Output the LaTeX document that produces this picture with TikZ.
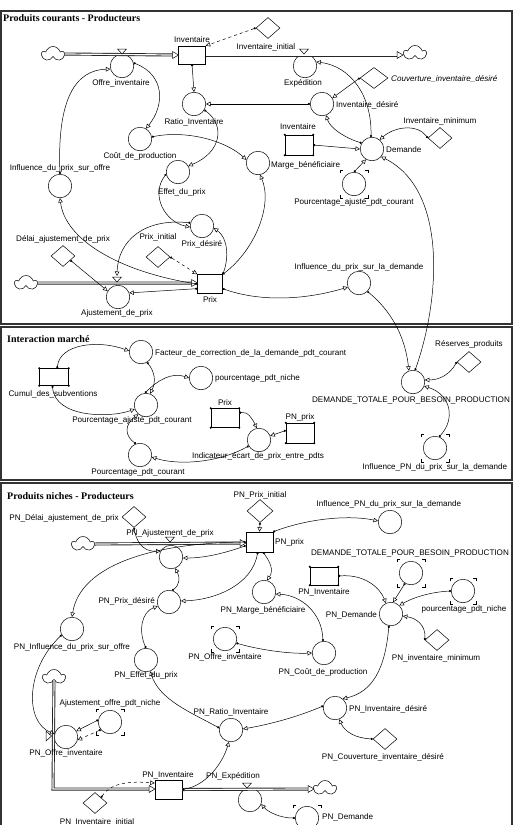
\documentclass[tikz,border=0pt]{standalone}
\usepackage{fontspec}
\setmainfont{Liberation Sans}
\newfontfamily\serifbf{Liberation Serif}
\usetikzlibrary{arrows.meta,shapes.geometric,shapes.symbols}
\newcommand\gbrk[3]{%
  \draw[line width=0.5pt] (#1.center) ++(-#2,-#3+3) -- ++(0,-3) -- ++(3,0);
  \draw[line width=0.5pt] (#1.center) ++(#2,-#3+3) -- ++(0,-3) -- ++(-3,0);
  \draw[line width=0.5pt] (#1.center) ++(-#2,#3-3) -- ++(0,3) -- ++(3,0);
  \draw[line width=0.5pt] (#1.center) ++(#2,#3-3) -- ++(0,3) -- ++(-3,0);}
\newcommand\gdots[1]{%
  \foreach \a in {north west,north east,south west,south east}{\fill (#1.\a) circle (1.1pt);}}
\newcommand\valveh[2]{\draw[line width=0.5pt,fill=white] (#1-4.5,#2-6) -- (#1+4.5,#2-6) -- (#1,#2-1) -- cycle;}
\newcommand\ftip[2]{\draw[line width=0.5pt,fill=white] (#1-6,#2-3.5) -- (#1,#2) -- (#1-6,#2+3.5) -- cycle;}
\begin{document}
\begin{tikzpicture}[x=1pt,y=-1pt,
  lab/.style={font=\fontsize{8.1}{9}\selectfont, inner sep=0pt},
  ttl/.style={font=\serifbf\bfseries\fontsize{10}{11}\selectfont, inner sep=0pt, anchor=west},
  aux/.style={circle, draw, line width=0.5pt, minimum size=23.5pt, inner sep=0pt},
  lev/.style={draw, line width=0.5pt, minimum width=27pt, minimum height=18pt, inner sep=0pt},
  cst/.style={diamond, draw, line width=0.5pt, minimum width=24pt, minimum height=21pt, inner sep=0pt},
  cld/.style={cloud, draw, line width=0.5pt, cloud puffs=5, aspect=1.5, minimum width=22pt, minimum height=15pt, inner sep=0pt},
  lnk/.style={line width=0.5pt, {Circle[length=2.2pt]}-{Triangle[open,length=4.5pt,width=4.5pt]}},
  dlnk/.style={lnk, dashed},
  pipe/.style={draw=black!85, line width=0.9pt, double=white, double distance=1.2pt},
  frm/.style={line width=1.1pt, draw=black!80},
]
\useasboundingbox (0,0) rectangle (519,825);
\fill[white] (0,0) rectangle (519,825);
% ---------- frames
\draw[frm] (1,11) rectangle (512,324);
\draw[frm] (1,327) rectangle (512,480);
\draw[frm] (1,483) rectangle (512,840);
\node[ttl] (t1) at (3,18) {Produits courants - Producteurs};
\node[ttl] (t2) at (7,339) {Interaction marché};
\node[ttl] (t3) at (7,496) {Produits niches - Producteurs};

% ================= PANEL 1
\node[cld] (c1) at (53,54) {};
\node[lev] (inv) at (192,55) {};
\node[aux] (offre) at (122,66) {};
\node[cst] (invini) at (268,28) {};
\node[aux] (exped) at (305,66) {};
\node[cld] (c2) at (415,53) {};
\node[cst, minimum width=28pt] (couv) at (374,78) {};
\node[aux] (invdes) at (322,104) {};
\node[aux] (ratio) at (194,104) {};
\node[cst] (invmin) at (440,138) {};
\node[lev, minimum width=28pt, minimum height=20pt] (ginv) at (299,145) {};
\gdots{ginv}
\node[aux] (dem) at (372,149) {};
\node[aux] (gpac) at (354,184) {};
\gbrk{gpac}{14}{14}
\node[aux] (marge) at (258,163) {};
\node[aux] (cout) at (140,139) {};
\node[aux] (effet) at (178,172) {};
\node[aux] (infoff) at (60,186) {};
\node[aux] (pdes) at (202,226) {};
\node[cst] (delai) at (63,256) {};
\node[cst] (pini) at (158,257) {};
\node[cld] (c3) at (26,283) {};
\node[aux] (ajust) at (118,297) {};
\node[lev, minimum width=25pt, minimum height=19pt] (prix) at (210,284) {};
\node[aux] (infdem) at (359,283) {};
\coordinate (v3) at (117,276);

\draw[pipe] (c1.east) -- (172.5,55); \ftip{178.5}{55}
\draw[pipe] (inv.east) -- (397,55); \ftip{403}{55}
\draw[pipe] (c3.east) -- (191.5,283); \ftip{197.5}{283}
\valveh{122}{55} \valveh{304}{55} \valveh{117}{283}

\node[lab] (lInv) at (192,40) {Inventaire};
\node[lab] (lOffre) at (121,83) {Offre\_inventaire};
\node[lab] (lInvini) at (266,47) {Inventaire\_initial};
\node[lab] (lExped) at (303,83) {Expédition};
\node[lab, anchor=west, font=\fontsize{8.1}{9}\selectfont\itshape] (lCouv) at (391,79) {Couverture\_inventaire\_désiré};
\node[lab, anchor=west] (lInvdes) at (336,105) {Inventaire\_désiré};
\node[lab] (lRatio) at (194,122) {Ratio\_Inventaire};
\node[lab] (lInvmin) at (440,121) {Inventaire\_minimum};
\node[lab] (lGinv) at (298,127) {Inventaire};
\node[lab, anchor=west] (lDem) at (386,150) {Demande};
\node[lab] (lGpac) at (354,202) {Pourcentage\_ajusté\_pdt\_courant};
\node[lab, anchor=west] (lMarge) at (271,165) {Marge\_bénéficiaire};
\node[lab] (lCout) at (140,156) {Coût\_de\_production};
\node[lab] (lEffet) at (182,192) {Effet\_du\_prix};
\node[lab] (lInfoff) at (60,168) {Influence\_du\_prix\_sur\_offre};
\node[lab] (lPdes) at (202,244) {Prix\_désiré};
\node[lab] (lDelai) at (63,239) {Délai\_ajustement\_de\_prix};
\node[lab] (lPini) at (158,237) {Prix\_initial};
\node[lab] (lAjust) at (117,313) {Ajustement\_de\_prix};
\node[lab] (lPrix) at (210,300) {Prix};
\node[lab] (lInfdem) at (359,267) {Influence\_du\_prix\_sur\_la\_demande};

\draw[dlnk] (invini.west) -- (inv.north east);
\draw[lnk] (inv.south) -- (ratio.north);
\draw[lnk] (invdes.west) -- (ratio.east);
\draw[lnk] (offre.15) .. controls (165,75) and (165,105) .. (cout.60);
\draw[lnk] (infoff.north) .. controls (57,100) and (75,70) .. (offre.195);
\draw[lnk] (ratio.-30) .. controls (225,125) and (222,152) .. (effet.30);
\draw[lnk] (cout.10) .. controls (185,130) and (225,140) .. (marge.165);
\draw[lnk] (effet.190) .. controls (150,195) and (165,222) .. (pdes.185);
\draw[lnk] (pdes.165) .. controls (145,218) and (118,240) .. (v3);
\draw[lnk] (prix.north east) .. controls (229,258) and (228,238) .. (pdes.-10);
\draw[lnk] (prix.north east) .. controls (255,250) and (273,205) .. (marge.-80);
\draw[lnk] (prix.west) .. controls (120,272) and (65,240) .. (infoff.south);
\draw[lnk] (delai.-30) -- (ajust.150);
\draw[dlnk] (pini.east) -- (prix.north west);
\draw[lnk] (prix.200) -- (ajust.20);
\draw[lnk] (prix.-20) .. controls (260,302) and (305,300) .. (infdem.200);
\draw[lnk] (invmin.west) .. controls (418,124) and (395,126) .. (dem.50);
\draw[lnk] (couv.west) -- (invdes.30);
\draw[lnk] (dem.150) .. controls (345,138) and (330,128) .. (invdes.-70);
\draw[lnk] (dem.95) .. controls (372,95) and (350,66) .. (exped.20);
\draw[lnk] (ginv.east) -- (dem.west);
\draw[lnk] (gpac.north) -- (dem.-120);

% ================= PANEL 2
\node[aux] (fact) at (141,352) {};
\node[lev, minimum width=29pt, minimum height=17pt] (cumul) at (54,377) {};
\gdots{cumul}
\node[aux] (pac) at (146,405) {};
\node[aux] (pniche) at (201,378) {};
\node[lev, minimum width=28pt, minimum height=19pt] (gprix) at (225,418) {};
\gdots{gprix}
\node[lev, minimum width=28pt, minimum height=20pt] (gpnprix) at (300,433) {};
\gdots{gpnprix}
\node[aux] (indic) at (259,440) {};
\node[aux] (ppc) at (140,455) {};
\node[cst] (reserv) at (469,362) {};
\node[aux] (dtot) at (413,382) {};
\node[aux] (ginfpn) at (435,448) {};
\gbrk{ginfpn}{14}{14}

\node[lab, anchor=west] (lFact) at (155,353) {Facteur\_de\_correction\_de\_la\_demande\_pdt\_courant};
\node[lab] (lCumul) at (53,394) {Cumul\_des\_subventions};
\node[lab] (lPac) at (132,420) {Pourcentage\_ajusté\_pdt\_courant};
\node[lab, anchor=west] (lPniche) at (215,378) {pourcentage\_pdt\_niche};
\node[lab] (lGprix) at (225,403) {Prix};
\node[lab] (lGpnprix) at (300,417) {PN\_prix};
\node[lab] (lIndic) at (258,456) {Indicateur\_écart\_de\_prix\_entre\_pdts};
\node[lab] (lPpc) at (138,472) {Pourcentage\_pdt\_courant};
\node[lab] (lReserv) at (469,344) {Réserves\_produits};
\node[lab] (lDtot) at (411,400) {DEMANDE\_TOTALE\_POUR\_BESOIN\_PRODUCTION};
\node[lab] (lGinfpn) at (435,467) {Influence\_PN\_du\_prix\_sur\_la\_demande};

\draw[lnk] (infdem.-45) .. controls (390,310) and (405,335) .. (dtot.110);
\draw[lnk] (dtot.80) .. controls (440,300) and (448,190) .. (dem.-40);
\draw[lnk] (cumul.70) .. controls (60,343) and (100,340) .. (fact.175);
\draw[lnk] (cumul.-100) .. controls (55,418) and (110,418) .. (pac.200);
\draw[lnk] (fact.-60) .. controls (155,372) and (156,382) .. (pac.70);
\draw[lnk] (pac.95) .. controls (158,380) and (172,372) .. (pniche.180);
\draw[lnk] (gprix.20) .. controls (248,411) and (253,420) .. (indic.100);
\draw[lnk] (gpnprix.170) -- (indic.20);
\draw[lnk] (indic.210) .. controls (220,462) and (180,466) .. (ppc.-10);
\draw[lnk] (ppc.110) .. controls (125,436) and (124,425) .. (pac.-130);
\draw[lnk] (reserv.west) .. controls (450,374) and (440,380) .. (dtot.10);
\draw[lnk] (ginfpn.70) .. controls (455,420) and (452,395) .. (dtot.-20);

% ================= PANEL 3
\node[cst] (pndelai) at (134,517) {};
\node[cld] (c4) at (83,544) {};
\node[aux] (pnajust) at (171,557) {};
\node[cst, minimum width=26pt, minimum height=23pt] (pnpini) at (260,511) {};
\node[lev, minimum width=27pt, minimum height=20pt] (pnprix) at (259.5,542) {};
\node[aux] (pninfpn) at (390,522) {};
\node[aux] (gdtot) at (411,573) {};
\gbrk{gdtot}{14}{14}
\node[lev, minimum width=28pt, minimum height=18pt] (gpninv) at (324,576) {};
\gdots{gpninv}
\node[aux] (pnmarge) at (264,592) {};
\node[aux] (gpniche) at (463,591) {};
\gbrk{gpniche}{13}{13}
\node[aux] (pndem) at (391,614) {};
\node[aux] (pnpdes) at (169,602) {};
\node[aux] (pninf) at (72,629) {};
\node[aux] (gpnoffre) at (225,639) {};
\gbrk{gpnoffre}{14}{13}
\node[aux] (pncout) at (324,653) {};
\node[cst] (pninvmin) at (437,640) {};
\node[aux] (pneffet) at (146,660) {};
\node[cld] (c5) at (54,677) {};
\node[aux] (gajo) at (110,722) {};
\gbrk{gajo}{14}{13}
\node[aux] (pnides) at (335,708) {};
\node[aux] (pnratio) at (231,730) {};
\node[aux] (pnoffre) at (66,737) {};
\node[cst] (pncouv) at (385,739) {};
\node[lev, minimum width=27pt, minimum height=19pt] (pninv) at (168.5,789.5) {};
\node[cst] (pnini) at (95,803) {};
\node[aux] (pnexp) at (250,800) {};
\node[cld] (c6) at (325,788) {};
\node[aux] (gpndem) at (307,818) {};
\gbrk{gpndem}{14}{13}

\draw[pipe] (c4.east) -- (240,543); \ftip{246}{543}
\draw[pipe] (c5.south) -- (53,789) -- (149,789); \ftip{155}{789}
\draw[pipe] (pninv.east) -- (308,789); \ftip{314}{789}
\valveh{170}{543} \valveh{247}{789}
\draw[line width=0.5pt,fill=white] (46,731) -- (46,741) -- (51.5,736) -- cycle;

\node[lab, anchor=east] (lPndelai) at (119,518) {PN\_Délai\_ajustement\_de\_prix};
\node[lab] (lPnajust) at (170,533) {PN\_Ajustement\_de\_prix};
\node[lab] (lPnpini) at (260,495) {PN\_Prix\_initial};
\node[lab, anchor=west] (lPnprix) at (275,542) {PN\_prix};
\node[lab] (lPninfpn) at (389,504) {Influence\_PN\_du\_prix\_sur\_la\_demande};
\node[lab] (lGdtot) at (410,553) {DEMANDE\_TOTALE\_POUR\_BESOIN\_PRODUCTION};
\node[lab] (lGpninv) at (324,592) {PN\_Inventaire};
\node[lab] (lPnmarge) at (263,610) {PN\_Marge\_bénéficiaire};
\node[lab] (lGpniche) at (464,609) {pourcentage\_pdt\_niche};
\node[lab, anchor=east] (lPndem) at (377,615) {PN\_Demande};
\node[lab, anchor=east] (lPnpdes) at (155,601) {PN\_Prix\_désiré};
\node[lab] (lPninf) at (72,647) {PN\_Influence\_du\_prix\_sur\_offre};
\node[lab] (lGpnoffre) at (225,657) {PN\_Offre\_inventaire};
\node[lab] (lPncout) at (323,672) {PN\_Coût\_de\_production};
\node[lab] (lPninvmin) at (436,658) {PN\_inventaire\_minimum};
\node[lab] (lPneffet) at (146,675) {PN\_Effet\_du\_prix};
\node[lab] (lGajo) at (110,703) {Ajustement\_offre\_pdt\_niche};
\node[lab, anchor=west] (lPnides) at (349,709) {PN\_Inventaire\_désiré};
\node[lab] (lPnratio) at (231,712) {PN\_Ratio\_Inventaire};
\node[lab] (lPnoffre) at (66,753) {PN\_Offre\_inventaire};
\node[lab] (lPncouv) at (383,757) {PN\_Couverture\_inventaire\_désiré};
\node[lab] (lPninv) at (168,775) {PN\_Inventaire};
\node[lab] (lPnini) at (97,822) {PN\_Inventaire\_initial};
\node[lab] (lPnexp) at (233,776) {PN\_Expédition};
\node[lab, anchor=west] (lGpndem) at (322,817) {PN\_Demande};

\draw[dlnk] (pnpini.south) -- (pnprix.north);
\draw[lnk] (pndelai.south) .. controls (136,540) and (142,552) .. (pnajust.150);
\draw[lnk] (pnprix.-165) .. controls (225,553) and (205,558) .. (pnajust.-5);
\draw[lnk] (pnprix.west) .. controls (150,543) and (80,566) .. (pninf.north);
\draw[lnk] (pnpdes.75) .. controls (180,585) and (180,577) .. (pnajust.-70);
\draw[lnk] (pnprix.-100) .. controls (252,585) and (215,600) .. (pnpdes.5);
\draw[lnk] (pnprix.-70) .. controls (270,562) and (274,570) .. (pnmarge.75);
\draw[lnk] (pneffet.north) .. controls (138,630) and (142,612) .. (pnpdes.200);
\draw[lnk] (pnratio.170) .. controls (190,712) and (160,700) .. (pneffet.-70);
\draw[lnk] (pninf.210) .. controls (25,670) and (25,722) .. (pnoffre.165);
\draw[lnk] (gajo.170) -- (pnoffre.30);
\draw[dlnk] (gajo.-140) -- (pnoffre.-15);
\draw[dlnk] (pnini.north east) .. controls (110,783) and (130,781) .. (pninv.155);
\draw[lnk] (pninv.east) .. controls (205,786) and (222,765) .. (pnratio.-100);
\draw[lnk] (pnides.170) .. controls (290,720) and (260,726) .. (pnratio.5);
\draw[lnk] (pncouv.west) .. controls (355,738) and (345,732) .. (pnides.-70);
\draw[lnk] (pndem.-100) .. controls (385,670) and (372,692) .. (pnides.50);
\draw[lnk] (gpnoffre.-20) .. controls (260,650) and (290,654) .. (pncout.180);
\draw[lnk] (pncout.95) .. controls (322,612) and (300,595) .. (pnmarge.-10);
\draw[lnk] (pnprix.north east) .. controls (310,518) and (350,515) .. (pninfpn.175);
\draw[lnk] (gpninv.east) .. controls (365,574) and (380,588) .. (pndem.115);
\draw[lnk] (gdtot.-120) -- (pndem.80);
\draw[lnk] (gpniche.west) .. controls (430,592) and (412,598) .. (pndem.45);
\draw[lnk] (pninvmin.west) .. controls (426,625) and (416,618) .. (pndem.-10);
\draw[lnk] (gpndem.west) .. controls (280,818) and (268,812) .. (pnexp.-20);
\end{tikzpicture}
\end{document}
